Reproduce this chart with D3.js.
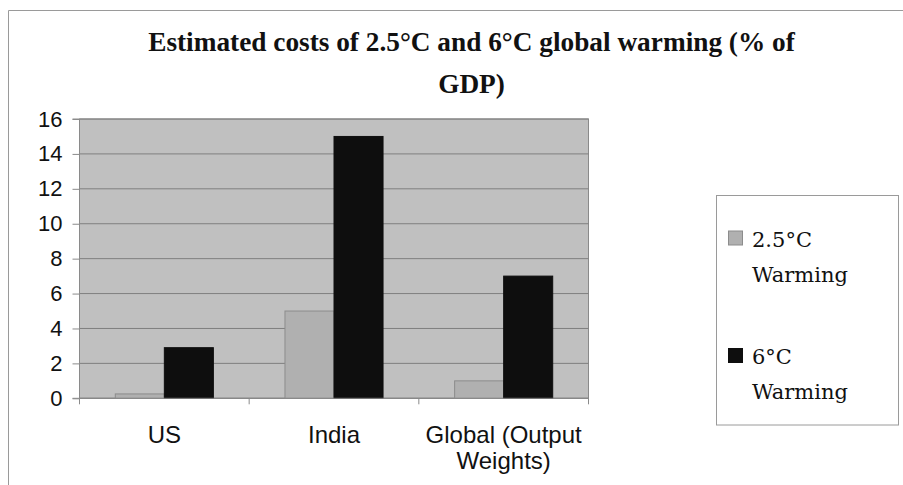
<!DOCTYPE html>
<html>
<head>
<meta charset="utf-8">
<script src="https://cdn.jsdelivr.net/npm/d3@7"></script>
<style>
  html, body { margin: 0; padding: 0; background: #fff; }
  svg { display: block; }
</style>
</head>
<body>
<svg id="chart" width="903" height="485"></svg>
<script>
// Chart data
const categories = ["US", "India", "Global (Output Weights)"];
const categoryLines = [["US"], ["India"], ["Global (Output", "Weights)"]];
const seriesNames = ["2.5°C Warming", "6°C Warming"];
const legendLines = [["2.5°C", "Warming"], ["6°C", "Warming"]];
const warming25 = [0.25, 5, 1];
const warming6 = [2.9, 15, 7];
const yTicks = [0, 2, 4, 6, 8, 10, 12, 14, 16];
const titleLines = ["Estimated costs of 2.5°C and 6°C global warming (% of", "GDP)"];

const seriesValues = [warming25, warming6];
const fills = ["#b0b0b0", "#0e0e0e"];
const strokes = ["#8c8c8c", "#0e0e0e"];

const svg = d3.select("#chart");

// Outer frame (top and left edges visible)
svg.append("path")
  .attr("d", "M8.5,485 V10.5 H903")
  .attr("fill", "none")
  .attr("stroke", "#9a9a9a")
  .attr("stroke-width", 1);

// Title: two centred lines, first line fitted to a set width,
// the second line sharing the same horizontal scale
const titleWidth = 647, titleCx = 471.5, titleBaselines = [51, 93];
const titleGroups = titleLines.map(line => {
  const g = svg.append("g");
  g.append("text")
    .attr("text-anchor", "middle")
    .attr("font-family", "Liberation Serif, serif")
    .attr("font-weight", "bold")
    .attr("font-size", 27)
    .attr("fill", "#111")
    .text(line);
  return g;
});
const titleScale = titleWidth / titleGroups[0].select("text").node().getComputedTextLength();
titleGroups.forEach((g, i) =>
  g.attr("transform", `translate(${titleCx},${titleBaselines[i]})scale(${titleScale},1)`));

// Plot area
const plot = { left: 79.5, right: 588.5, top: 119, bottom: 398.3 };

const y = d3.scaleLinear().domain([0, 16]).range([plot.bottom, plot.top]);
const x0 = d3.scaleBand().domain(categories).range([plot.left, plot.right]).padding(0);
const x1 = d3.scaleBand().domain(seriesNames).range([0, x0.bandwidth()])
  .paddingInner(0).paddingOuter(0.73);

svg.append("rect")
  .attr("x", plot.left).attr("y", plot.top)
  .attr("width", plot.right - plot.left).attr("height", plot.bottom - plot.top)
  .attr("fill", "#c0c0c0")
  .attr("stroke", "#8a8a8a").attr("stroke-width", 1);

// Gridlines
svg.append("g")
  .selectAll("line")
  .data(yTicks)
  .join("line")
  .attr("x1", plot.left).attr("x2", plot.right)
  .attr("y1", d => y(d)).attr("y2", d => y(d))
  .attr("stroke", "#7f7f7f").attr("stroke-width", 1);

// Bars
const groups = svg.append("g")
  .selectAll("g")
  .data(categories)
  .join("g")
  .attr("transform", d => `translate(${x0(d)},0)`);

groups.selectAll("rect")
  .data((c, ci) => seriesNames.map((s, si) => ({ s, si, v: seriesValues[si][ci] })))
  .join("rect")
  .attr("x", d => x1(d.s))
  .attr("width", x1.bandwidth())
  .attr("y", d => y(d.v))
  .attr("height", d => y(0) - y(d.v))
  .attr("fill", d => fills[d.si])
  .attr("stroke", d => strokes[d.si])
  .attr("stroke-width", 1);

// Y axis
const yAxis = d3.axisLeft(y).tickValues(yTicks).tickSize(7).tickPadding(10).tickFormat(d3.format("d"));
const gy = svg.append("g").attr("transform", `translate(${plot.left},0)`).call(yAxis);
gy.select(".domain").attr("stroke", "#8a8a8a").attr("d", `M-7,${plot.bottom}H0V${plot.top}H-7`);
gy.selectAll(".tick line").attr("stroke", "#8a8a8a");
gy.selectAll(".tick text")
  .attr("font-family", "Liberation Sans, Arial, sans-serif")
  .attr("font-size", 22)
  .attr("fill", "#111");

// X axis line and category boundary ticks
const xAxis = d3.axisBottom(x0).tickSize(0).tickFormat("");
const gx = svg.append("g").attr("transform", `translate(0,${plot.bottom})`).call(xAxis);
gx.select(".domain").attr("stroke", "#8a8a8a").attr("d", `M${plot.left},0H${plot.right}`);
const boundaries = categories.map(c => x0(c)).concat([x0.range()[1]]);
gx.selectAll(".boundary")
  .data(boundaries)
  .join("line")
  .attr("class", "boundary")
  .attr("x1", d => d).attr("x2", d => d)
  .attr("y1", 0).attr("y2", 6)
  .attr("stroke", "#8a8a8a");

// Category labels
categories.forEach((c, i) => {
  const t = svg.append("text")
    .attr("text-anchor", "middle")
    .attr("font-family", "Liberation Sans, Arial, sans-serif")
    .attr("font-size", 24)
    .attr("fill", "#111");
  categoryLines[i].forEach((line, li) => {
    t.append("tspan")
      .attr("x", x0(c) + x0.bandwidth() / 2)
      .attr("y", 442.5 + li * 26.5)
      .text(line);
  });
});

// Legend
svg.append("rect")
  .attr("x", 716.5).attr("y", 195.5)
  .attr("width", 182).attr("height", 229.5)
  .attr("fill", "#fff")
  .attr("stroke", "#9a9a9a").attr("stroke-width", 1);

const legendRows = [231, 348.5];
seriesNames.forEach((s, i) => {
  svg.append("rect")
    .attr("x", 728.5).attr("y", legendRows[i])
    .attr("width", 14).attr("height", 14)
    .attr("fill", fills[i])
    .attr("stroke", strokes[i]).attr("stroke-width", 1);
  const t = svg.append("text")
    .attr("font-family", "DejaVu Serif, serif")
    .attr("font-size", 21)
    .attr("fill", "#111");
  legendLines[i].forEach((line, li) => {
    t.append("tspan")
      .attr("x", 752)
      .attr("y", legendRows[i] + 15.5 + li * 35)
      .text(line);
  });
});
</script>
</body>
</html>
